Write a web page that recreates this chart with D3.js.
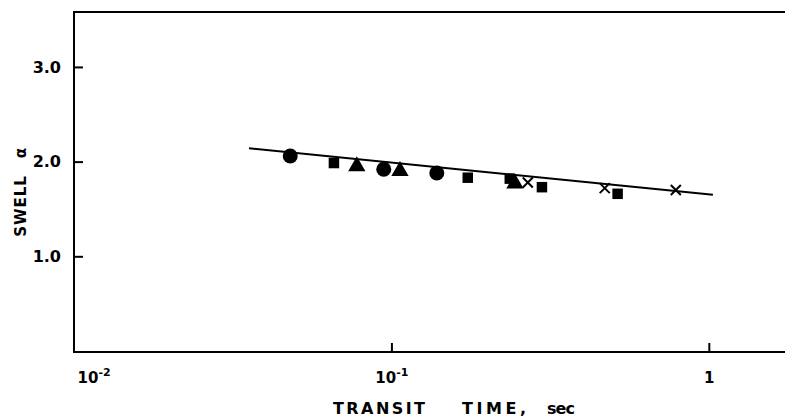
<!DOCTYPE html>
<html lang="en">
<head>
<meta charset="UTF-8">
<title>Swell vs transit time</title>
<script src="https://d3js.org/d3.v7.min.js"></script>
<style>
  body { margin: 0; background: #fff; }
  svg text { font-family: "DejaVu Sans", sans-serif; fill: #000; }
</style>
</head>
<body>
<div id="chart"></div>
<script>
// transit time (sec) and swell values, per marker type
const circleT = [0.048, 0.0946, 0.139];
const circleS = [2.06, 1.92, 1.88];
const squareT = [0.0659, 0.174, 0.236, 0.298, 0.516];
const squareS = [1.985, 1.83, 1.82, 1.73, 1.66];
const triT = [0.0778, 0.1064, 0.245];
const triS = [1.95, 1.90, 1.77];
const crossT = [0.269, 0.470, 0.787];
const crossS = [1.78, 1.72, 1.70];

// fitted line end points
const lineT = [0.0356, 1.03];
const lineS = [2.14, 1.65];

const yTicks = [1, 2, 3];
const xTicks = [0.01, 0.1, 1];
const xTickLabels = [["10", "-2"], ["10", "-1"], ["1", ""]];

const W = 785, H = 418;
const mLeft = 74, mRight = 785, mTop = 12, mBottom = 352;

const svg = d3.select("#chart").append("svg")
    .attr("width", W)
    .attr("height", H);

const x = d3.scaleLog()
    .domain([0.01, Math.pow(10, 0.24)])
    .range([mLeft, mRight]);

const y = d3.scaleLinear()
    .domain([0, 3.58])
    .range([mBottom - 1, mTop]);

// frame: left, top and bottom lines (no right side in the picture)
svg.append("path")
    .attr("d", `M${mRight},${mTop}H${mLeft}V${mBottom}H${mRight}`)
    .attr("fill", "none")
    .attr("stroke", "#000")
    .attr("stroke-width", 2);

// y axis ticks, pointing inward
const yAxis = svg.append("g")
    .attr("transform", `translate(${mLeft},0)`)
    .call(d3.axisLeft(y).tickValues(yTicks).tickSize(-9).tickPadding(13)
        .tickFormat(d => d3.format(".1f")(d)));
yAxis.select(".domain").remove();
yAxis.selectAll("line").attr("stroke-width", 2);
yAxis.selectAll("text").attr("font-size", 16).attr("font-weight", "bold");

// x axis ticks, pointing inward
const xAxis = svg.append("g")
    .attr("transform", `translate(0,${mBottom})`)
    .call(d3.axisBottom(x).tickValues(xTicks).tickSize(-9).tickPadding(16)
        .tickFormat(""));
xAxis.select(".domain").remove();
xAxis.selectAll("line")
    .attr("stroke-width", 2)
    .attr("opacity", (d, i) => i === 0 ? 0 : 1);

// tick labels with superscripts
xAxis.selectAll(".tick").each(function(d, i) {
    const t = d3.select(this).append("text")
        .attr("y", 31)
        .attr("font-size", 15)
        .attr("font-weight", "bold")
        .attr("text-anchor", i === 0 ? "start" : "middle")
        .attr("x", i === 0 ? 3 : 0);
    t.append("tspan").text(xTickLabels[i][0]);
    if (xTickLabels[i][1]) {
        t.append("tspan")
            .attr("font-size", 11)
            .attr("dy", -7)
            .text(xTickLabels[i][1]);
    }
});

// axis titles
svg.append("text")
    .attr("transform", "translate(26,206) rotate(-90)")
    .attr("text-anchor", "middle")
    .attr("font-size", 15)
    .attr("font-weight", "bold")
    .attr("letter-spacing", 1)
    .text("SWELL");
svg.append("text")
    .attr("transform", "translate(26,153) rotate(-90)")
    .attr("text-anchor", "middle")
    .attr("font-size", 15)
    .attr("font-weight", "bold")
    .text("\u03b1");

// x title, spread out like the original lettering
const xTitle = [
    {t: "TRANSIT", x: 333, len: 92},
    {t: "TIME,", x: 462, len: 64},
    {t: "sec", x: 547, len: 28}
];
svg.selectAll(".xtitle")
    .data(xTitle)
    .enter().append("text")
    .attr("x", d => d.x)
    .attr("y", 414)
    .attr("font-size", 16)
    .attr("font-weight", "bold")
    .attr("textLength", d => d.len)
    .attr("lengthAdjust", "spacing")
    .text(d => d.t);

// regression line
svg.append("line")
    .attr("x1", x(lineT[0])).attr("y1", y(lineS[0]))
    .attr("x2", x(lineT[1])).attr("y2", y(lineS[1]))
    .attr("stroke", "#000")
    .attr("stroke-width", 2);

const pts = (ts, ss) => ts.map((t, i) => ({t: t, s: ss[i]}));

svg.selectAll(".circ")
    .data(pts(circleT, circleS))
    .enter().append("circle")
    .attr("cx", d => x(d.t))
    .attr("cy", d => y(d.s))
    .attr("r", 7.5)
    .attr("fill", "#000");

svg.selectAll(".sq")
    .data(pts(squareT, squareS))
    .enter().append("path")
    .attr("transform", d => `translate(${x(d.t)},${y(d.s)})`)
    .attr("d", d3.symbol().type(d3.symbolSquare).size(110))
    .attr("fill", "#000");

svg.selectAll(".tri")
    .data(pts(triT, triS))
    .enter().append("path")
    .attr("transform", d => `translate(${x(d.t)},${y(d.s)})`)
    .attr("d", d3.symbol().type(d3.symbolTriangle).size(130))
    .attr("fill", "#000");

svg.selectAll(".cross")
    .data(pts(crossT, crossS))
    .enter().append("path")
    .attr("transform", d => `translate(${x(d.t)},${y(d.s)})`)
    .attr("d", "M-5,-5L5,5M-5,5L5,-5")
    .attr("stroke", "#000")
    .attr("stroke-width", 2)
    .attr("fill", "none");
</script>
</body>
</html>
